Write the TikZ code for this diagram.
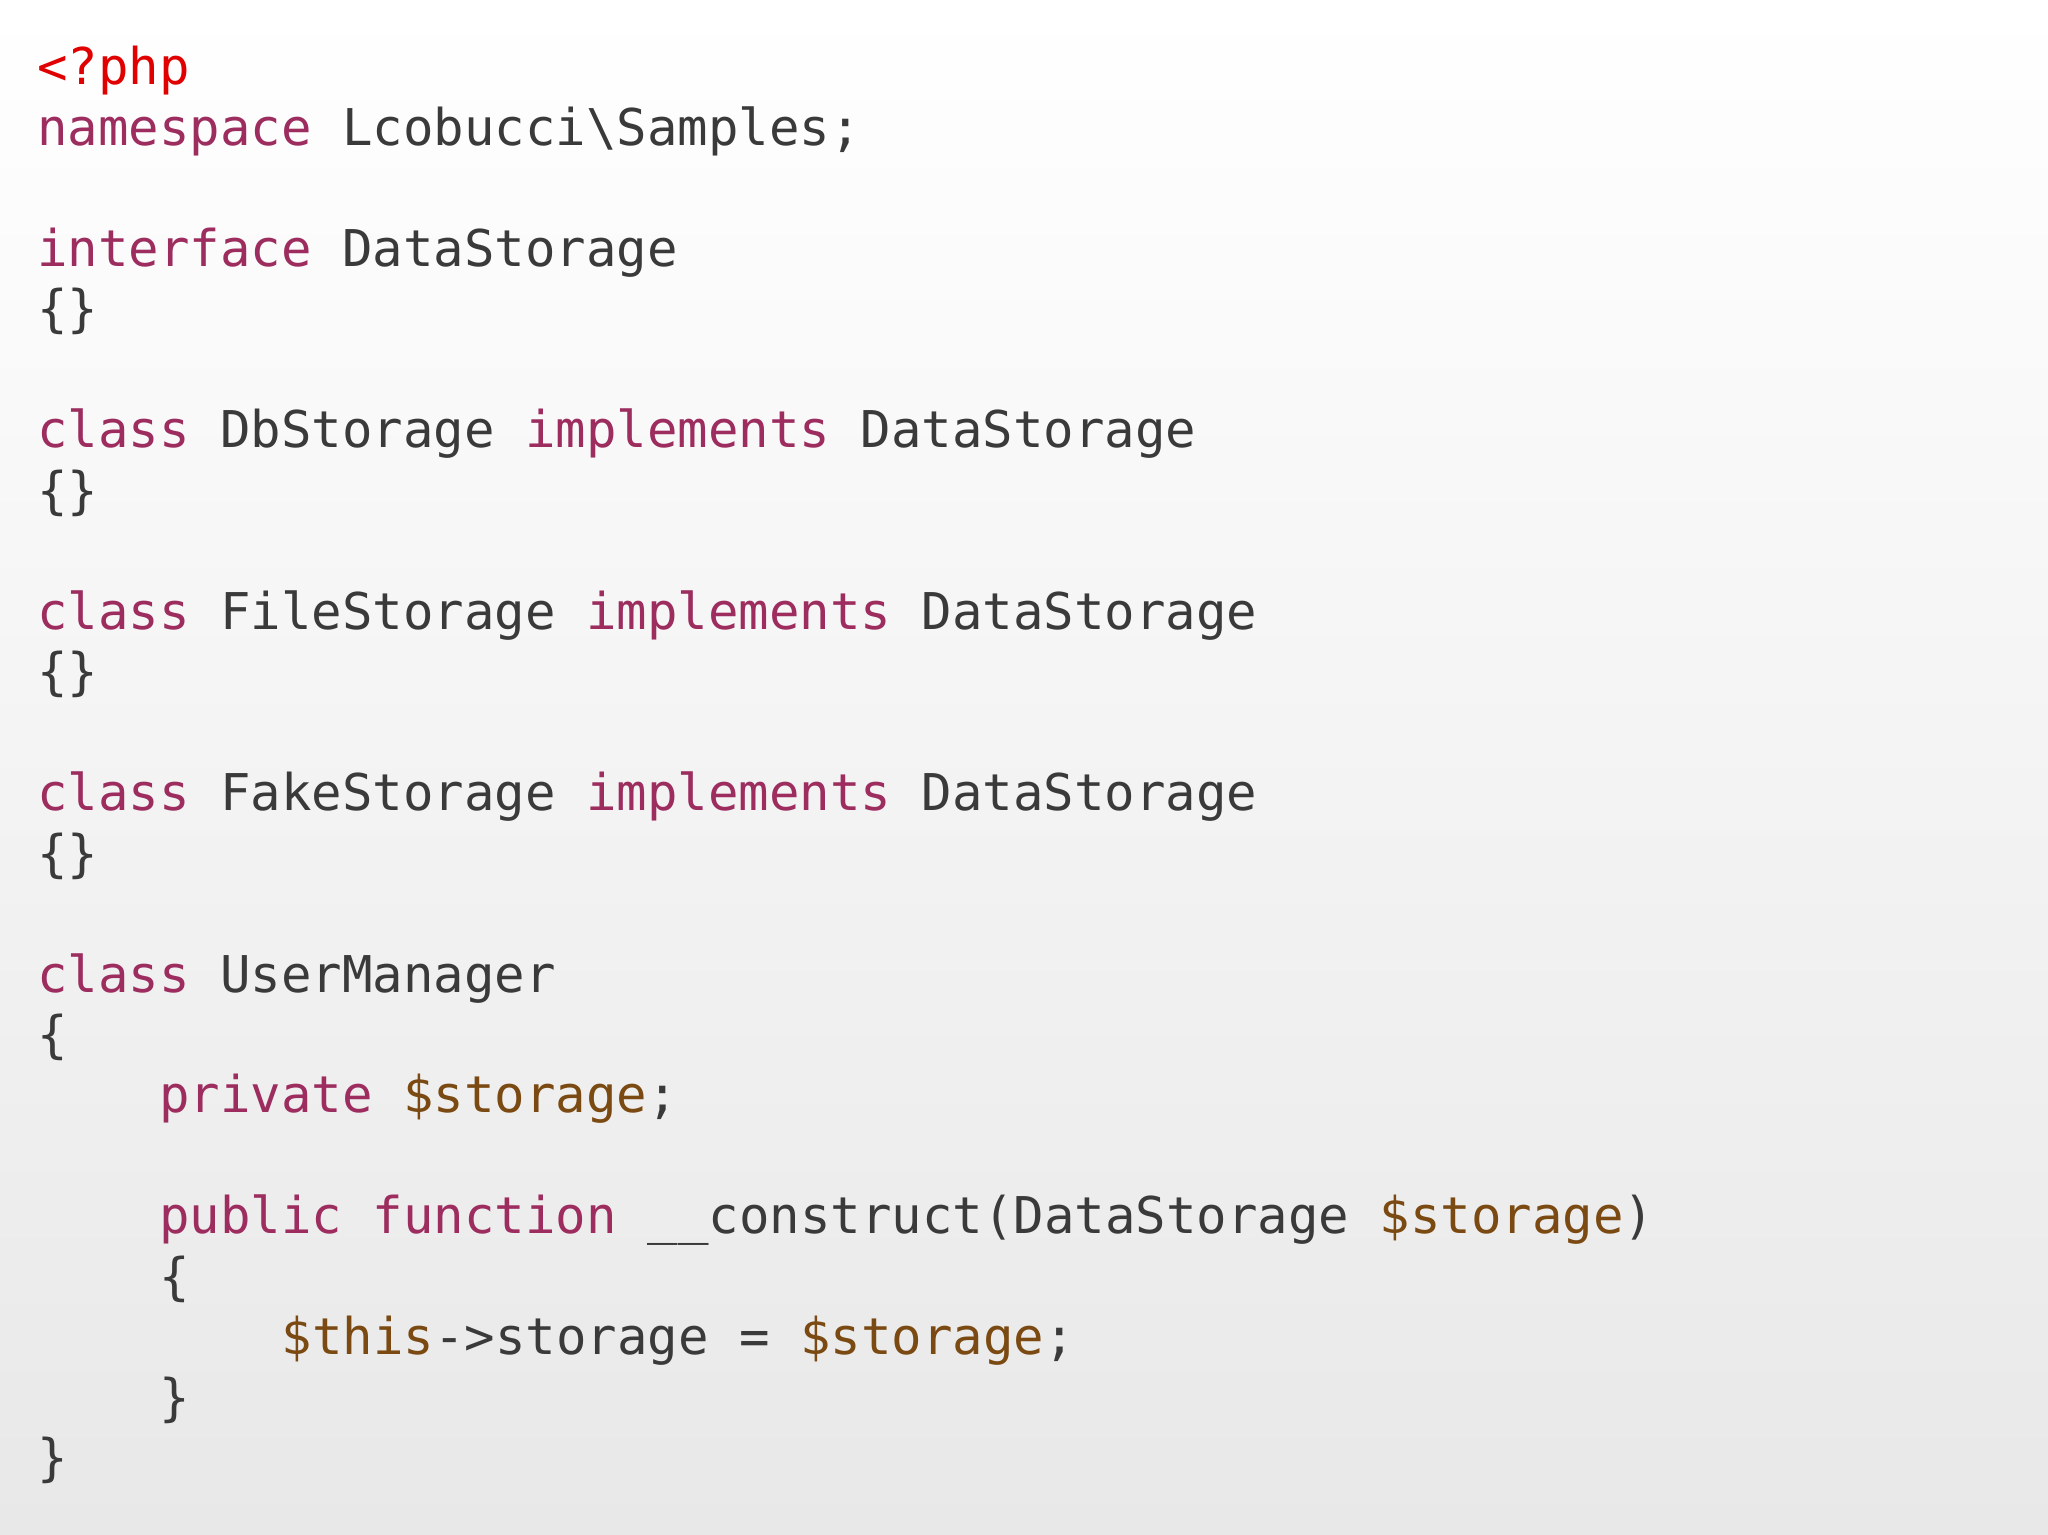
\documentclass[tikz,border=0pt]{standalone}
\usepackage{fontspec}
\setmonofont{DejaVu Sans Mono}
\definecolor{kw}{HTML}{9C2D5E}
\definecolor{vr}{HTML}{7A4A12}
\definecolor{rd}{HTML}{E00000}
\definecolor{tx}{HTML}{3A3A3A}
\newcommand{\K}[1]{\textcolor{kw}{#1}}
\newcommand{\V}[1]{\textcolor{vr}{#1}}
\begin{document}
\begin{tikzpicture}[x=0.5pt,y=-0.5pt,
  code/.style={anchor=base west,inner sep=0pt,text=tx,font=\ttfamily\fontsize{19.4}{23}\selectfont}]
\shade[top color=white,bottom color=black!9] (0,0) rectangle (1568,1175);
\useasboundingbox (0,0) rectangle (1568,1175);
\def\cw{23.4}
\newcommand{\CL}[4]{\node[code] (#1) at ({28+#3*\cw},{65+46.3*#2}) {#4};}
\CL{l0}{0}{0}{\textcolor{rd}{<?php}}
\CL{l1}{1}{0}{\K{namespace} Lcobucci\textbackslash Samples;}
\CL{l3}{3}{0}{\K{interface} DataStorage}
\CL{l4}{4}{0}{\{\}}
\CL{l6}{6}{0}{\K{class} DbStorage \K{implements} DataStorage}
\CL{l7}{7}{0}{\{\}}
\CL{l9}{9}{0}{\K{class} FileStorage \K{implements} DataStorage}
\CL{l10}{10}{0}{\{\}}
\CL{l12}{12}{0}{\K{class} FakeStorage \K{implements} DataStorage}
\CL{l13}{13}{0}{\{\}}
\CL{l15}{15}{0}{\K{class} UserManager}
\CL{l16}{16}{0}{\{}
\CL{l17}{17}{4}{\K{private} \V{\$storage};}
\CL{l19}{19}{4}{\K{public} \K{function} \_\_construct(DataStorage \V{\$storage})}
\CL{l20}{20}{4}{\{}
\CL{l21}{21}{8}{\V{\$this}->storage = \V{\$storage};}
\CL{l22}{22}{4}{\}}
\CL{l23}{23}{0}{\}}
\end{tikzpicture}
\end{document}
